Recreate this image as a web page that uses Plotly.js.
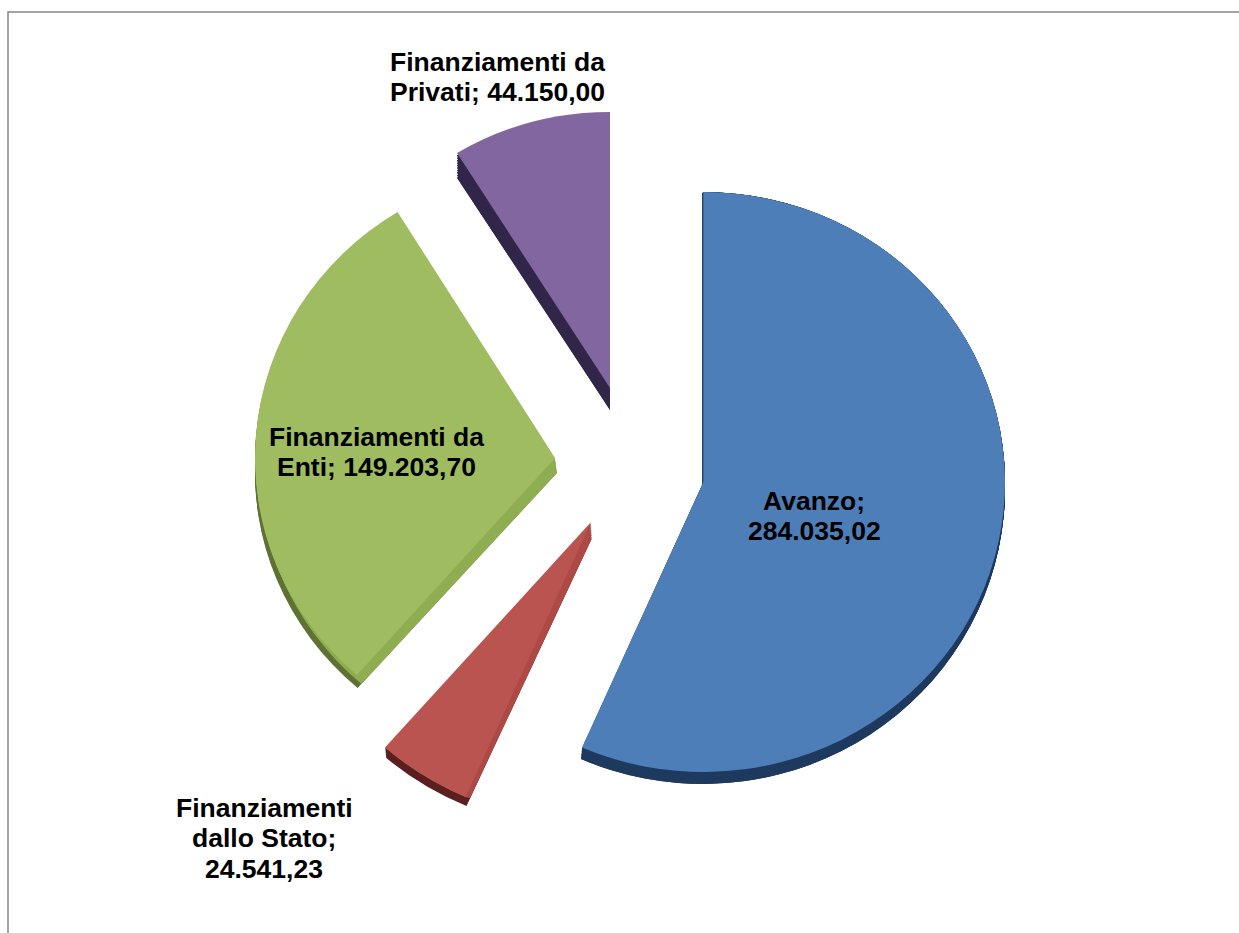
<!DOCTYPE html>
<html><head><meta charset="utf-8">
<script src="https://cdn.plot.ly/plotly-3.0.1.min.js"></script>
<style>html,body{margin:0;padding:0;background:#fff}#c{width:1239px;height:933px}</style>
</head><body><div id="c"></div>
<script>
const categories = ['Avanzo','Finanziamenti dallo Stato','Finanziamenti da Enti','Finanziamenti da Privati'];
const values = [284035.02,24541.23,149203.70,44150.00];
const topColors = ['#4E7EB8','#BA5450','#9FBC61','#82669F'];
const midColors = ['#1F3A5F','#AE4A47','#8FAD52','#32264A'];
const darkColors = ['#1F3A5F','#5A2120','#5F7335','#32264A'];
const labelLines = [['Avanzo;','284.035,02'],['Finanziamenti','dallo Stato;','24.541,23'],['Finanziamenti da','Enti; 149.203,70'],['Finanziamenti da','Privati; 44.150,00']];
const labelX = [814,264,376,497];
const labelY = [516,838,452,77];
const linePitch = 30.5;
const pull = 0.25;
// perspective fit per slice, per layer: [x0,y0,x1,y1]
const darkBoxes = [[581,193,1005,784],[386,538,592,806],[255,229,557,688],[457,137,610,410]];
const midBoxes  = [[581,193,1005,784],[392,538,592,798],[261,234,557,684],[457,137,610,410]];
const topBoxes  = [[582,192,1005,772],[385,522,591,797],[255,212,555,675],[457,112,610,388]];
const extrudeSteps = 10;
const W=1239,H=933,cx=630,cy=466,s=372;
function pie(colors){
  return {type:'pie',values:values,labels:categories,sort:false,direction:'clockwise',rotation:0,
    pull:pull,textinfo:'none',hoverinfo:'skip',showlegend:false,
    marker:{colors:colors,line:{width:0}},
    domain:{x:[(cx-s)/W,(cx+s)/W],y:[1-(cy+s)/H,1-(cy-s)/H]}};
}
const mix=(a,b,t)=>a.map((box,i)=>box.map((v,j)=>v+(b[i][j]-v)*t));
const traces=[],layerBoxes=[];
for(let n=0;n<extrudeSteps;n++){traces.push(pie(darkColors));layerBoxes.push(mix(darkBoxes,topBoxes,n/extrudeSteps));}
for(let n=0;n<extrudeSteps;n++){traces.push(pie(midColors));layerBoxes.push(mix(midBoxes,topBoxes,n/extrudeSteps));}
traces.push(pie(topColors));layerBoxes.push(topBoxes);
const annotations=[];
labelLines.forEach((lines,i)=>lines.forEach((t,j)=>annotations.push({
  text:'<b>'+t+'</b>',xref:'paper',yref:'paper',x:labelX[i]/W,
  y:1-(labelY[i]+(j-(lines.length-1)/2)*linePitch)/H,
  xanchor:'center',yanchor:'middle',align:'center',showarrow:false,
  font:{family:'Liberation Sans, Arial, sans-serif',size:26.5,color:'#000'}})));
Plotly.newPlot('c',traces,{
  width:W,height:H,margin:{l:0,r:0,t:0,b:0},paper_bgcolor:'#fff',showlegend:false,
  shapes:[{type:'rect',xref:'paper',yref:'paper',x0:8/W,x1:1300/W,y0:1-1000/H,y1:1-12/H,line:{color:'#868686',width:1.5},fillcolor:'rgba(0,0,0,0)'}],
  annotations:annotations
},{displayModeBar:false,staticPlot:true}).then(()=>{
  document.querySelectorAll('#c .pielayer .trace').forEach((tr,k)=>{
    tr.querySelectorAll('.slice path.surface').forEach((p,i)=>{
      const b=p.getBBox(),d=layerBoxes[k][i];
      const sx=(d[2]-d[0])/b.width,sy=(d[3]-d[1])/b.height;
      p.setAttribute('transform',`translate(${d[0]} ${d[1]}) scale(${sx} ${sy}) translate(${-b.x} ${-b.y})`);
    });
  });
});
</script></body></html>
